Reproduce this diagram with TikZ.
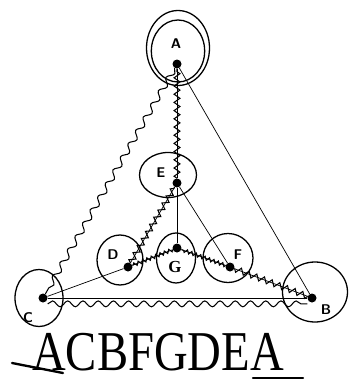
\documentclass[tikz,border=0pt]{standalone}
\usepackage{fontspec}
\setmainfont{Liberation Serif}
\usetikzlibrary{positioning,shapes.geometric,decorations.pathmorphing}

\begin{document}
\begin{tikzpicture}[
  x=0.03cm, y=-0.03cm,
  vtx/.style={circle, fill=black, inner sep=0pt, minimum size=0.27cm},
  ring/.style={ellipse, draw, line width=1.1pt, inner sep=0pt},
  tag/.style={font=\sffamily\bfseries\large},
  edge/.style={line width=0.6pt},
  tour/.style={line width=0.9pt, decorate,
    decoration={zigzag, segment length=7pt, amplitude=2.5pt}},
  wave/.style={line width=0.9pt, decorate,
    decoration={snake, segment length=13pt, amplitude=2.5pt}},
  scribble/.style={line width=2pt, line cap=round}
]
\useasboundingbox (0,0) rectangle (349,385);
% vertices
\node[vtx] (a) at (177,64) {};
\node[vtx] (e) at (177,183) {};
\node[vtx] (g) at (177,248) {};
\node[vtx] (d) at (128,267) {};
\node[vtx] (f) at (230,267) {};
\node[vtx] (c) at (43,298) {};
\node[vtx] (b) at (312,298) {};
% loops round the vertices
\node[ring, minimum width=1.89cm, minimum height=2.25cm] (ringa) at (178,48) {};
\node[ring, minimum width=1.6cm, minimum height=1.86cm] (ringaa) at (178,51) {};
\node[ring, minimum width=1.71cm, minimum height=1.35cm] (ringe) at (168,175) {};
\node[ring, minimum width=1.17cm, minimum height=1.5cm] (ringg) at (176,258) {};
\node[ring, minimum width=1.38cm, minimum height=1.5cm] (ringd) at (120,260) {};
\node[ring, minimum width=1.5cm, minimum height=1.47cm] (ringf) at (228,258) {};
\node[ring, minimum width=1.44cm, minimum height=1.71cm] (ringc) at (39,298) {};
\node[ring, minimum width=1.95cm, minimum height=1.8cm] (ringb) at (315,292) {};
% labels
\node[tag] (la) at (176,44) {A};
\node[tag] (le) at (161,173) {E};
\node[tag, font=\Large\bfseries] (lg) at (175,267) {G};
\node[tag] (ld) at (113,255) {D};
\node[tag] (lf) at (238,255) {F};
\node[tag] (lc) at (28,318) {C};
\node[tag] (lb) at (326,310) {B};
% edges
\draw[edge] (a) -- (b);
\draw[edge] (c) -- (b);
\draw[edge] (a) -- (e);
\draw[edge] (e) -- (g);
\draw[edge] (e) -- (f);
\draw[edge] (d) -- (e);
\draw[edge] (c) -- (d);
\draw[edge] (d) -- (g);
\draw[edge] (g) -- (f);
\draw[edge] (f) -- (b);
% the tour
\draw[wave] (a) -- (c);
\draw[wave] ([yshift=-5pt]c.east) -- ([yshift=-5pt]b.west);
\draw[tour] (b) -- (f);
\draw[tour, decoration={amplitude=1.5pt, segment length=4pt}] (f) -- (g);
\draw[tour, decoration={amplitude=1.5pt, segment length=4pt}] (g) -- (d);
\draw[tour] (d) -- (e);
\draw[tour] (e) -- (a);
% answer
\node[font=\fontsize{48}{50}\selectfont, xscale=0.83] (word) at (158,352) {ACBFGDEA};
\coordinate (ua) at (12,363);
\coordinate (ub) at (63,373);
\coordinate (uc) at (253,378);
\coordinate (ud) at (303,378);
\draw[scribble] (ua) -- (ub);
\draw[scribble] (uc) -- (ud);
\end{tikzpicture}
\end{document}
